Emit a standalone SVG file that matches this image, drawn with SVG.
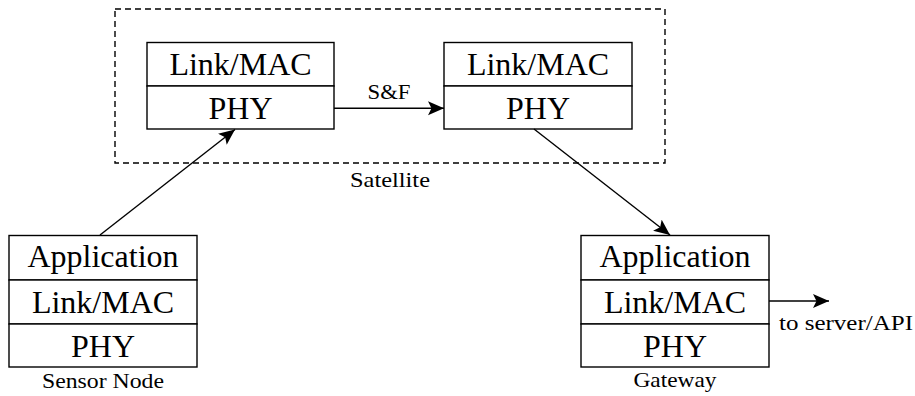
<svg xmlns="http://www.w3.org/2000/svg" width="915" height="396" viewBox="0 0 915 396">
<style>
.box{fill:#fff;stroke:#000;stroke-width:1.4}
.big{font-size:32px;text-anchor:middle;fill:#000}
.small{font-size:21px;text-anchor:middle;fill:#000}
.conn{stroke:#000;stroke-width:1.4;fill:none}
</style>
<defs>
<marker id="arr" markerUnits="userSpaceOnUse" markerWidth="20" markerHeight="16" refX="16" refY="7" orient="auto">
<path d="M0,0 L16,7 L0,14 L3.5,7 z" fill="#000"/>
</marker>
</defs>
<g font-family="Liberation Serif, serif">
<g id="satellite">
<rect x="115" y="9" width="550" height="154" fill="none" stroke="#000" stroke-width="1.4" stroke-dasharray="6,4"/>
<text class="small" x="390" y="187" textLength="80" lengthAdjust="spacingAndGlyphs">Satellite</text>
</g>
<g id="sat1">
<rect class="box" x="147" y="42.5" width="187" height="43.5"/>
<rect class="box" x="147" y="86" width="187" height="43"/>
<text class="big" x="240.5" y="74.5">Link/MAC</text>
<text class="big" x="240.5" y="118.5">PHY</text>
</g>
<g id="sat2">
<rect class="box" x="444" y="42.5" width="188" height="43.5"/>
<rect class="box" x="444" y="86" width="188" height="43"/>
<text class="big" x="538" y="74.5">Link/MAC</text>
<text class="big" x="538" y="118.5">PHY</text>
</g>
<g id="sensor">
<rect class="box" x="9" y="235.5" width="188" height="44.5"/>
<rect class="box" x="9" y="280" width="188" height="44"/>
<rect class="box" x="9" y="324" width="188" height="43"/>
<text class="big" x="103" y="267">Application</text>
<text class="big" x="103" y="312.5">Link/MAC</text>
<text class="big" x="103" y="356.5">PHY</text>
<text class="small" x="103" y="388" textLength="122" lengthAdjust="spacingAndGlyphs">Sensor Node</text>
</g>
<g id="gateway">
<rect class="box" x="581" y="235.5" width="188" height="44.5"/>
<rect class="box" x="581" y="280" width="188" height="44"/>
<rect class="box" x="581" y="324" width="188" height="43"/>
<text class="big" x="675" y="267">Application</text>
<text class="big" x="675" y="312.5">Link/MAC</text>
<text class="big" x="675" y="356.5">PHY</text>
<text class="small" x="675" y="387" textLength="83" lengthAdjust="spacingAndGlyphs">Gateway</text>
</g>
<g id="connectors">
<line class="conn" x1="100" y1="235" x2="235" y2="129.5" marker-end="url(#arr)"/>
<line class="conn" x1="334" y1="108.3" x2="444" y2="108.3" marker-end="url(#arr)"/>
<text class="small" x="389" y="99" textLength="43" lengthAdjust="spacingAndGlyphs">S&amp;F</text>
<line class="conn" x1="534" y1="129" x2="670" y2="235" marker-end="url(#arr)"/>
<line class="conn" x1="769" y1="301" x2="829" y2="301" marker-end="url(#arr)"/>
<text class="small" x="846" y="329.5" textLength="134" lengthAdjust="spacingAndGlyphs">to server/API</text>
</g>
</g>
</svg>
